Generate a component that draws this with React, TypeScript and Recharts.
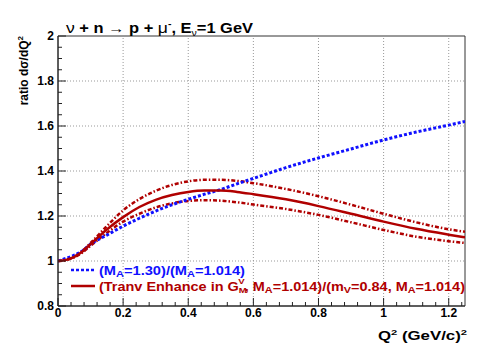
import React from "react";
import {
  ComposedChart,
  Line,
  XAxis,
  YAxis,
  ReferenceLine,
  ReferenceArea,
} from "recharts";

// Q^2 sample points (GeV/c)^2
const q2 = [0, 0.025, 0.05, 0.075, 0.1, 0.15, 0.2, 0.25, 0.3, 0.35, 0.4, 0.45, 0.5, 0.55, 0.6, 0.7, 0.8, 0.9, 1.0, 1.1, 1.2, 1.25];

// (MA=1.30)/(MA=1.014)
const maRatio = [1.0, 1.012, 1.026, 1.045, 1.075, 1.115, 1.155, 1.19, 1.222, 1.25, 1.274, 1.297, 1.318, 1.343, 1.367, 1.415, 1.458, 1.498, 1.538, 1.573, 1.604, 1.62];
// transverse enhancement, central
const tePlain = [1.0, 1.005, 1.018, 1.042, 1.075, 1.14, 1.195, 1.24, 1.272, 1.293, 1.307, 1.313, 1.313, 1.307, 1.297, 1.274, 1.244, 1.21, 1.175, 1.143, 1.117, 1.105];
// upper / lower band
const teUpper = [1.0, 1.006, 1.02, 1.046, 1.08, 1.155, 1.225, 1.275, 1.312, 1.338, 1.354, 1.361, 1.361, 1.356, 1.346, 1.32, 1.288, 1.25, 1.21, 1.172, 1.141, 1.13];
const teLower = [1.0, 1.004, 1.016, 1.038, 1.068, 1.125, 1.175, 1.21, 1.238, 1.256, 1.267, 1.27, 1.268, 1.261, 1.251, 1.231, 1.205, 1.172, 1.138, 1.108, 1.088, 1.08];

const xMajor = [0, 0.2, 0.4, 0.6, 0.8, 1.0, 1.2];
const xTicks = [0, 0.04, 0.08, 0.12, 0.16, 0.2, 0.24, 0.28, 0.32, 0.36, 0.4, 0.44, 0.48, 0.52, 0.56, 0.6, 0.64, 0.68, 0.72, 0.76, 0.8, 0.84, 0.88, 0.92, 0.96, 1.0, 1.04, 1.08, 1.12, 1.16, 1.2, 1.24];
const yMajor = [0.8, 1.0, 1.2, 1.4, 1.6, 1.8, 2.0];
const yTicks = [0.8, 0.85, 0.9, 0.95, 1.0, 1.05, 1.1, 1.15, 1.2, 1.25, 1.3, 1.35, 1.4, 1.45, 1.5, 1.55, 1.6, 1.65, 1.7, 1.75, 1.8, 1.85, 1.9, 1.95, 2.0];

const data = q2.map((q, i) => ({
  q,
  ma: maRatio[i],
  te: tePlain[i],
  hi: teUpper[i],
  lo: teLower[i],
}));

const W = 485;
const H = 360;
const LEFT = 58;
const RIGHT = 465;
const TOP = 36;
const BOTTOM = 306;

const BLUE = "#1010ff";
const RED = "#b00000";
const FONT = "'Liberation Sans', Arial, Helvetica, sans-serif";

const isMajor = (v: number, majors: number[]) => majors.some((m) => Math.abs(m - v) < 1e-6);
const fmt = (v: number) => (Math.abs(v - Math.round(v)) < 1e-6 ? String(Math.round(v)) : String(Number(v.toFixed(2))));

const XTick = (props: any) => {
  const { x, payload } = props;
  const major = isMajor(payload.value, xMajor);
  return (
    <g>
      <line x1={x} x2={x} y1={BOTTOM} y2={BOTTOM - (major ? 8 : 4)} stroke="#222" strokeWidth={1} />
      {major && (
        <text x={x} y={BOTTOM + 11} textAnchor="middle" fontSize={12} fontWeight="bold" fontFamily={FONT} fill="#000">
          {fmt(payload.value)}
        </text>
      )}
    </g>
  );
};

const YTick = (props: any) => {
  const { y, payload } = props;
  const major = isMajor(payload.value, yMajor);
  return (
    <g>
      <line x1={LEFT} x2={LEFT + (major ? 8 : 4)} y1={y} y2={y} stroke="#222" strokeWidth={1} />
      {major && (
        <text x={LEFT - 4} y={y + 4} textAnchor="end" fontSize={12} fontWeight="bold" fontFamily={FONT} fill="#000">
          {fmt(payload.value)}
        </text>
      )}
    </g>
  );
};

// segments: [text, baseline shift (px, + is down), font size, dx, weight]
type Seg = [string, number, number?, number?, string?];
const Rich = ({ segs, size }: { segs: Seg[]; size: number }) => {
  let prev = 0;
  return (
    <>
      {segs.map(([t, shift, fs, dx, fw], i) => {
        const dy = shift - prev;
        prev = shift;
        return (
          <tspan key={i} dy={dy || undefined} dx={dx} fontSize={fs ?? size} fontWeight={fw}>
            {t}
          </tspan>
        );
      })}
    </>
  );
};

export default function App() {
  return (
    <div style={{ position: "absolute", left: 0, top: 0, width: W, height: H, background: "#fff" }}>
      <ComposedChart width={W} height={H} data={data} margin={{ top: TOP, right: W - RIGHT, bottom: 0, left: 0 }}>
        <XAxis
          dataKey="q"
          type="number"
          domain={[0, 1.25]}
          ticks={xTicks}
          allowDataOverflow
          interval={0}
          height={H - BOTTOM}
          tickLine={false}
          axisLine={{ stroke: "#222" }}
          tick={<XTick />}
        />
        <YAxis
          type="number"
          domain={[0.8, 2]}
          ticks={yTicks}
          allowDataOverflow
          interval={0}
          width={LEFT}
          tickLine={false}
          axisLine={{ stroke: "#222" }}
          tick={<YTick />}
        />
        {xMajor.filter((v) => v > 0).map((v) => (
          <ReferenceLine key={"gx" + v} x={v} stroke="#999" strokeDasharray="1 2" />
        ))}
        {yMajor.filter((v) => v > 0.8 && v < 2).map((v) => (
          <ReferenceLine key={"gy" + v} y={v} stroke="#999" strokeDasharray="1 2" />
        ))}
        <ReferenceArea x1={0} x2={1.25} y1={0.8} y2={2} fill="none" stroke="#333" strokeWidth={1} />
        <Line dataKey="hi" type="monotone" stroke={RED} strokeWidth={2.5} strokeDasharray="4 2 1.5 2" dot={false} isAnimationActive={false} />
        <Line dataKey="lo" type="monotone" stroke={RED} strokeWidth={2.5} strokeDasharray="4 2 1.5 2" dot={false} isAnimationActive={false} />
        <Line dataKey="ma" type="monotone" stroke={BLUE} strokeWidth={3} strokeDasharray="3 2" dot={false} isAnimationActive={false} />
        <Line dataKey="te" type="monotone" stroke={RED} strokeWidth={2.5} dot={false} isAnimationActive={false} />
      </ComposedChart>
      <svg width={W} height={H} style={{ position: "absolute", left: 0, top: 0, pointerEvents: "none" }} fontFamily={FONT} fontWeight="bold">
        <text x={66} y={33} fill="#000" textLength={187} lengthAdjust="spacingAndGlyphs">
          <Rich
            size={14}
            segs={[
              ["\u03bd", 0, 15, undefined, "normal"],
              [" + n \u2192 p + ", 0],
              ["\u03bc", 0, 15, undefined, "normal"],
              ["-", -6, 9],
              [", E", 0],
              ["\u03bd", 3, 9, undefined, "normal"],
              ["=1 GeV", 0],
            ]}
          />
        </text>
        <text transform="translate(28,36) rotate(-90)" textAnchor="end" fill="#000">
          <Rich size={12} segs={[["ratio d\u03c3/dQ", 0], ["2", -5, 8]]} />
        </text>
        <text x={378} y={340} fill="#000" textLength={89} lengthAdjust="spacingAndGlyphs">
          <Rich size={12} segs={[["Q", 0], ["2", -5, 8], [" (GeV/c)", 0], ["2", -5, 8]]} />
        </text>
        <line x1={71} x2={95} y1={270} y2={270} stroke={BLUE} strokeWidth={2.5} strokeDasharray="3 2" />
        <text x={99} y={274.5} fill={BLUE} textLength={146} lengthAdjust="spacingAndGlyphs">
          <Rich
            size={12}
            segs={[
              ["(M", 0],
              ["A", 2, 9],
              ["=1.30)/(M", 0],
              ["A", 2, 9],
              ["=1.014)", 0],
            ]}
          />
        </text>
        <line x1={71} x2={95} y1={286} y2={286} stroke={RED} strokeWidth={2.5} />
        <text x={99} y={290.5} fill={RED} textLength={366} lengthAdjust="spacingAndGlyphs">
          <Rich
            size={12}
            segs={[
              ["(Tranv Enhance in G", 0],
              ["M", 2, 8],
              ["V", -7, 8, -7],
              [", M", 0],
              ["A", 2, 9],
              ["=1.014)/(m", 0],
              ["V", 2, 9],
              ["=0.84, M", 0],
              ["A", 2, 9],
              ["=1.014)", 0],
            ]}
          />
        </text>
      </svg>
    </div>
  );
}
